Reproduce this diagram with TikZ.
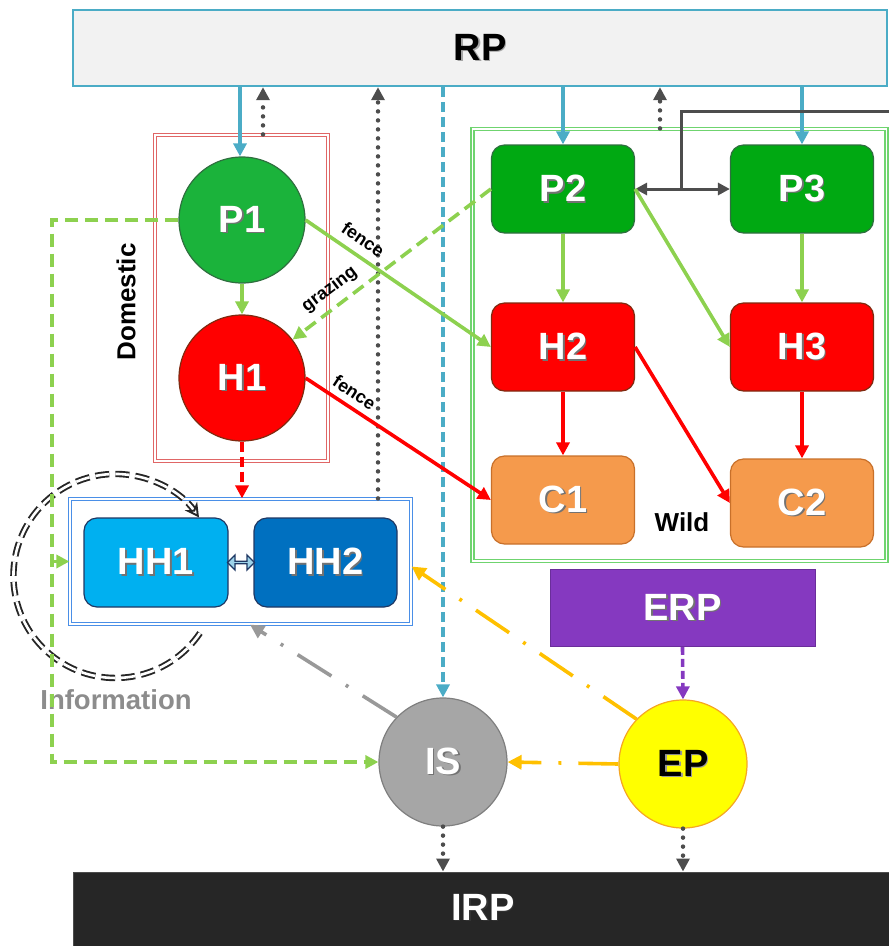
\documentclass[tikz,border=0pt]{standalone}
\usepackage{fontspec}
\setmainfont{Liberation Sans}
\usetikzlibrary{arrows.meta,calc,shapes.arrows}

\definecolor{rpfill}{HTML}{F2F2F2}
\definecolor{rpblue}{HTML}{4BACC6}
\definecolor{pgreenA}{HTML}{1BB33B}
\definecolor{pgreenB}{HTML}{00A912}
\definecolor{pborder}{HTML}{2F6F3F}
\definecolor{hred}{HTML}{FF0000}
\definecolor{hborder}{HTML}{7F2A10}
\definecolor{corange}{HTML}{F59A4C}
\definecolor{cborder}{HTML}{C8702A}
\definecolor{hhlight}{HTML}{00B0F0}
\definecolor{hhdark}{HTML}{0070C0}
\definecolor{hhborder}{HTML}{1F3864}
\definecolor{hhlinkfill}{HTML}{9DD3EA}
\definecolor{lgreen}{HTML}{8DD14F}
\definecolor{domred}{HTML}{E06666}
\definecolor{wildgreen}{HTML}{6FD46F}
\definecolor{hhframe}{HTML}{4A8FE7}
\definecolor{isgray}{HTML}{A6A6A6}
\definecolor{isborder}{HTML}{7F7F7F}
\definecolor{epyellow}{HTML}{FFFF00}
\definecolor{epborder}{HTML}{F5A623}
\definecolor{erppurple}{HTML}{8539C0}
\definecolor{irpblack}{HTML}{262626}
\definecolor{amber}{HTML}{FFC000}
\definecolor{linkgray}{HTML}{999999}
\definecolor{dgray}{HTML}{4D4D4D}
\definecolor{infogray}{HTML}{8C8C8C}

% text with a small drop shadow
\newcommand{\txtshadow}[2][black!55]{\leavevmode\rlap{\kern1.6pt\raisebox{-1.6pt}{\textcolor{#1}{#2}}}#2}

\tikzset{
  big/.style={font=\bfseries\fontsize{38}{40}\selectfont},
  small/.style={font=\bfseries\fontsize{18}{20}\selectfont},
  circ/.style={circle, minimum size=126pt, inner sep=0pt, line width=1.2pt, big, text=white},
  rbox/.style={rectangle, rounded corners=13pt, minimum width=143pt, minimum height=88pt,
               inner sep=0pt, line width=1.2pt, big, text=white},
  dframe/.style={draw=#1, double=white, double distance=1.8pt, line width=1.2pt,
                 rectangle, inner sep=0pt},
  arr/.style={-{Triangle[length=13pt,width=13pt]}},
  bluearr/.style={arr, draw=rpblue, line width=3.6pt},
  greenarr/.style={arr, draw=lgreen, line width=3.6pt},
  greendash/.style={draw=lgreen, line width=3.6pt, dash pattern=on 13pt off 7pt},
  redarr/.style={arr, draw=hred, line width=3.6pt},
  dotup/.style={draw=dgray, line width=4.5pt, line cap=round, dash pattern=on 0pt off 9pt,
                -{Triangle[length=13pt,width=13pt,line cap=butt]}},
  amberlink/.style={draw=amber, line width=3.6pt, dash pattern=on 40pt off 17pt on 3pt off 17pt,
                    -{Triangle[length=14pt,width=14pt]}},
  graylink/.style={draw=linkgray, line width=3.6pt, dash pattern=on 40pt off 17pt on 3pt off 17pt,
                   -{Triangle[length=14pt,width=14pt]}},
}

\begin{document}
\begin{tikzpicture}[x=1pt,y=-1pt]
\useasboundingbox (0,0) rectangle (889,946);

% ---- top and bottom bars ----
\node[rectangle, fill=rpfill, draw=rpblue, line width=2.4pt, minimum width=814pt,
      minimum height=76pt, inner sep=0pt, big, text=black] (RP) at (480,48) {\txtshadow[black!35]{RP}};
\node[rectangle, fill=irpblack, draw=black!70, line width=1pt, minimum width=822pt,
      minimum height=80pt, inner sep=0pt] (IRP) at (484,912) {};
\node[big, text=white] (IRPt) at (483,908) {\txtshadow[black!80]{IRP}};

% ---- group frames ----
\node[dframe=domred, minimum width=173pt, minimum height=326pt] (dom) at (241.5,298) {};
\node[dframe=wildgreen, minimum width=414pt, minimum height=432pt] (wild) at (679.5,345) {};
\node[dframe=hhframe, minimum width=341pt, minimum height=125pt] (hhbox) at (240.5,561.5) {};

\node[font=\bfseries\fontsize{26}{28}\selectfont, rotate=90] (domlbl) at (126,302) {Domestic};
\node[font=\bfseries\fontsize{26}{28}\selectfont] (wildlbl) at (682,522) {Wild};
\node[font=\bfseries\fontsize{27.5}{29}\selectfont, text=infogray] (infolbl) at (116,700) {Information};

% ---- domestic nodes ----
\node[circ, fill=pgreenA, draw=pborder] (P1) at (242,220) {\txtshadow{P1}};
\node[circ, fill=hred, draw=hborder] (H1) at (242,378) {\txtshadow{H1}};

% ---- wild nodes ----
\node[rbox, fill=pgreenB, draw=pborder] (P2) at (563,189) {\txtshadow{P2}};
\node[rbox, fill=pgreenB, draw=pborder] (P3) at (802,189) {\txtshadow{P3}};
\node[rbox, fill=hred, draw=hborder] (H2) at (563,347) {\txtshadow{H2}};
\node[rbox, fill=hred, draw=hborder] (H3) at (802,347) {\txtshadow{H3}};
\node[rbox, fill=corange, draw=cborder] (C1) at (563,500) {\txtshadow{C1}};
\node[rbox, fill=corange, draw=cborder] (C2) at (802,503) {\txtshadow{C2}};

% ---- households ----
\node[rbox, minimum width=144pt, minimum height=89pt, fill=hhlight, draw=hhborder] (HH1) at (156,562.5) {\txtshadow{HH1}};
\node[rbox, minimum width=143pt, minimum height=89pt, fill=hhdark, draw=hhborder] (HH2) at (325.5,562.5) {\txtshadow{HH2}};
\node[double arrow, draw=hhborder, fill=hhlinkfill, line width=1.3pt, inner sep=0pt,
      minimum height=27pt, minimum width=15pt, double arrow head extend=3pt]
  (hhlink) at ($(HH1.east)!0.5!(HH2.west)$) {};

% ---- lower nodes ----
\node[rectangle, fill=erppurple, draw=erppurple!80!black, line width=0.8pt, minimum width=265pt,
      minimum height=77pt, inner sep=0pt, big, text=white] (ERP) at (682.5,608) {\txtshadow{ERP}};
\node[circ, minimum size=128pt, fill=isgray, draw=isborder] (IS) at (443,762) {\txtshadow{IS}};
\node[circ, minimum size=128pt, fill=epyellow, draw=epborder] (EP) at (683,764) {\textcolor{black}{\txtshadow[black!40]{EP}}};

% ---- RP feeding the producers ----
\draw[bluearr] (RP.south -| 240,0) -- (P1.north -| 240,0);
\draw[bluearr] (RP.south -| P2.north) -- (P2.north);
\draw[bluearr] (RP.south -| P3.north) -- (P3.north);
\draw[draw=rpblue, line width=3.6pt, dash pattern=on 10pt off 5pt, -{Triangle[length=13pt,width=13pt]}]
  (RP.south -| IS.north) -- (IS.north);

% ---- returns to RP ----
\coordinate (domtop) at ([xshift=21.5pt]dom.north);
\coordinate (hhtop) at ([xshift=137.5pt]hhbox.north);
\coordinate (wildtop) at ([xshift=-19.5pt]wild.north);
\draw[dotup] (domtop) -- (domtop |- RP.south);
\draw[dotup] (hhtop) -- (hhtop |- RP.south);
\draw[dotup] (wildtop) -- (wildtop |- RP.south);

% ---- exchange between P2 and P3 ----
\coordinate (pmid) at (681,189);
\coordinate (gexit) at (889,111);
\draw[draw=dgray, line width=3pt, {Triangle[length=12pt,width=12pt]}-{Triangle[length=12pt,width=12pt]}]
  (P2.east) -- (P3.west);
\draw[draw=dgray, line width=3pt] (pmid) |- (gexit);

% ---- trophic links ----
\draw[greenarr] (P1.south) -- (H1.north);
\draw[greenarr] (P1.east) -- node[small, sloped, above=5pt, pos=0.26] {fence} (H2.west);
\draw[greendash, arr] (P2.west) -- node[small, sloped, above=4pt, pos=0.76] {grazing} (H1);
\draw[greenarr] (P2.south) -- (H2.north);
\draw[greenarr] (P3.south) -- (H3.north);
\draw[greenarr] (P2.east) -- (H3.west);
\draw[redarr] (H1.east) -- node[small, sloped, above=3pt, pos=0.22] {fence} (C1.west);
\draw[redarr] (H2.south) -- (C1.north);
\draw[redarr] (H3.south) -- (C2.north);
\draw[redarr] (H2.east) -- (C2.west);
\draw[redarr, dash pattern=on 10pt off 5pt] (H1.south) -- (H1.south |- hhbox.north);

% ---- household information loop ----
\coordinate (loopstart) at (200,633);
\draw[draw=black!85, double=white, double distance=2.6pt, line width=1.9pt, dash pattern=on 14pt off 6pt,
      -{Stealth[length=14pt,width=15pt,open]}]
  (loopstart) arc[start angle=-34, end angle=-325, radius=102pt];

% ---- information flows ----
\coordinate (gcorner) at (52,220);
\draw[greendash, arr] (P1.west) -- (gcorner) |- (IS.west);
\draw[greenarr] (gcorner |- hhbox.west) -- (hhbox.west);
\coordinate (hhbot) at ([xshift=9.5pt]hhbox.south);
\draw[graylink] (IS.136) -- (hhbot);
\coordinate (hhright) at ([yshift=-5pt]hhbox.east);
\draw[amberlink] (EP.136) -- (hhright);
\draw[amberlink] (EP.west) -- (IS.east);
\draw[draw=erppurple, line width=3.6pt, dash pattern=on 8pt off 4pt, -{Triangle[length=13pt,width=13pt]}]
  (ERP.south) -- (EP.north);

% ---- outputs to IRP ----
\draw[dotup] (IS.south) -- (IS.south |- IRP.north);
\draw[dotup] (EP.south) -- (EP.south |- IRP.north);
\end{tikzpicture}
\end{document}
